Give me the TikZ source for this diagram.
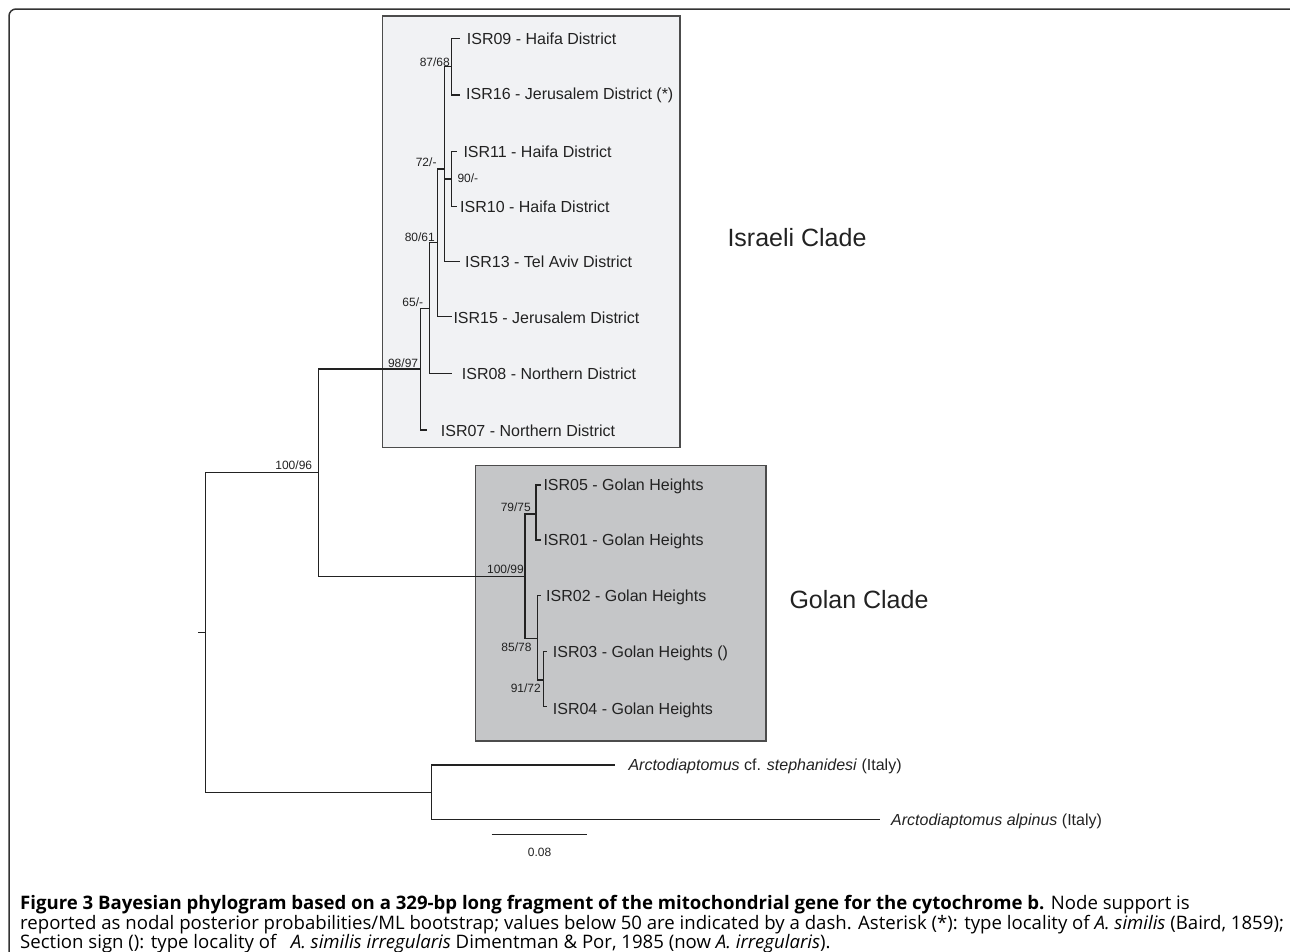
\documentclass[tikz,border=0pt]{standalone}
\usepackage{fontspec}
\setmainfont{Liberation Sans}
\newfontfamily\capfont{Open Sans}
\definecolor{israfill}{HTML}{F1F2F4}
\definecolor{golanfill}{HTML}{C5C6C8}
\definecolor{ink}{HTML}{222222}
\begin{document}
\begin{tikzpicture}[x=1pt,y=-1pt,
  br/.style={line width=1.35pt, draw=ink},
  tiplab/.style={anchor=base west, inner sep=0pt, font=\fontsize{16}{19}\selectfont, text=ink},
  suplab/.style={anchor=base east, inner sep=0pt, font=\fontsize{12}{14}\selectfont, text=ink},
  cladelab/.style={inner sep=0pt, font=\fontsize{25}{30}\selectfont, text=ink},
  captext/.style={anchor=base west, inner sep=0pt, font=\capfont\fontsize{18.6}{21}\selectfont, text=black}]
\useasboundingbox (0,0) rectangle (1290,951);
% frame
\draw[line width=1.5pt, draw=black!80, rounded corners=7pt] (9,980) -- (9,9) -- (1297,9) -- (1297,980);
% clade boxes
\draw[fill=israfill, draw=black!70, line width=1.2pt] (382.7,16) rectangle (680,447.7);
\draw[fill=golanfill, draw=black!70, line width=1.2pt] (475.7,465.7) rectangle (766,741);
% node coordinates
\coordinate (R) at (205.7,632.5);
\coordinate (R0) at (198.3,632.5);
\coordinate (U) at (318.3,472.7);
\coordinate (O) at (431.7,792.5);
\coordinate (F) at (420.7,369);
\coordinate (E) at (429.3,308.3);
\coordinate (D) at (437.3,242.7);
\coordinate (C) at (444.3,169);
\coordinate (A) at (451.7,66.7);
\coordinate (B) at (451.7,179);
\coordinate (G) at (525,576.7);
\coordinate (H) at (536,514);
\coordinate (I) at (537.3,638.3);
\coordinate (J) at (543.3,680);
% tips
\coordinate (t09) at (460,38.3);
\coordinate (t16) at (460,95);
\coordinate (t11) at (457.3,151.7);
\coordinate (t10) at (457.3,206.7);
\coordinate (t13) at (460,261.7);
\coordinate (t15) at (451.7,316.7);
\coordinate (t08) at (451.7,373.3);
\coordinate (t07) at (426.7,430);
\coordinate (t05) at (540.7,485);
\coordinate (t01) at (540.7,540);
\coordinate (t02) at (540.7,595.7);
\coordinate (t03) at (547.3,651.7);
\coordinate (t04) at (547.3,706.7);
\coordinate (ts) at (615,765);
\coordinate (ta) at (880,819.3);
% branches
\draw[br] (R0) -- (R);
\draw[br] (R) |- (U);
\draw[br] (R) |- (O);
\draw[br] (U) |- (F);
\draw[br] (U) |- (G);
\draw[br] (F) |- (E);
\draw[br] (F) |- (t07);
\draw[br] (E) |- (D);
\draw[br] (E) |- (t08);
\draw[br] (D) |- (C);
\draw[br] (D) |- (t15);
\draw[br] (C) |- (A);
\draw[br] (C) |- (B);
\draw[br] (C) |- (t13);
\draw[br] (A) |- (t09);
\draw[br] (A) |- (t16);
\draw[br] (B) |- (t11);
\draw[br] (B) |- (t10);
\draw[br] (G) |- (H);
\draw[br] (G) |- (I);
\draw[br] (H) |- (t05);
\draw[br] (H) |- (t01);
\draw[br] (I) |- (t02);
\draw[br] (I) |- (J);
\draw[br] (J) |- (t03);
\draw[br] (J) |- (t04);
\draw[br] (O) |- (ts);
\draw[br] (O) |- (ta);
% tip labels
\node[tiplab] (l09) at (466.7,44.0) {ISR09 - Haifa District};
\node[tiplab] (l16) at (466,99.0) {ISR16 - Jerusalem District (*)};
\node[tiplab] (l11) at (463.3,157.4) {ISR11 - Haifa District};
\node[tiplab] (l10) at (460,212.4) {ISR10 - Haifa District};
\node[tiplab] (l13) at (465,267.4) {ISR13 - Tel Aviv District};
\node[tiplab] (l15) at (453.3,323.0) {ISR15 - Jerusalem District};
\node[tiplab] (l08) at (461.7,379.7) {ISR08 - Northern District};
\node[tiplab] (l07) at (440.7,436.4) {ISR07 - Northern District};
\node[tiplab] (l05) at (543.3,490.7) {ISR05 - Golan Heights};
\node[tiplab] (l01) at (543.3,545.7) {ISR01 - Golan Heights};
\node[tiplab] (l02) at (546,601.4) {ISR02 - Golan Heights};
\node[tiplab] (l03) at (552.7,657.4) {ISR03 - Golan Heights ()};
\node[tiplab] (l04) at (552.7,714.0) {ISR04 - Golan Heights};
\node[tiplab] (ls) at (628.3,770.7) {\textit{Arctodiaptomus} cf. \textit{stephanidesi} (Italy)};
\node[tiplab] (la) at (891,825.0) {\textit{Arctodiaptomus alpinus} (Italy)};
% support values
\node[suplab] (s1) at (450,66) {87/68};
\node[suplab] (s2) at (436.7,166) {72/-};
\node[suplab, anchor=base west] (s3) at (457.3,182.6) {90/-};
\node[suplab] (s4) at (435,241) {80/61};
\node[suplab] (s5) at (423.3,306) {65/-};
\node[suplab] (s6) at (418.3,367) {98/97};
\node[suplab] (s7) at (312.3,469.3) {100/96};
\node[suplab] (s8) at (524,573.6) {100/99};
\node[suplab] (s9) at (531,511) {79/75};
\node[suplab] (s10) at (531.7,651) {85/78};
\node[suplab] (s11) at (541,692.6) {91/72};
% clade names
\node[cladelab] (isr) at (797,238) {Israeli Clade};
\node[cladelab] (gol) at (859,600) {Golan Clade};
% scale bar
\coordinate (sb1) at (491.7,834.3);
\coordinate (sb2) at (587.3,834.3);
\draw[br] (sb1) -- (sb2);
\node[suplab, anchor=base] (sbl) at (539.5,856.3) {0.08};
% caption
\node[captext] (cap1) at (20,909) {\textbf{Figure 3 Bayesian phylogram based on a 329-bp long fragment of the mitochondrial gene for the cytochrome b.} Node support is};
\node[captext] (cap2) at (20,929.5) {reported as nodal posterior probabilities/ML bootstrap; values below 50 are indicated by a dash. Asterisk (*): type locality of \textit{A. similis} (Baird, 1859);};
\node[captext] (cap3) at (20,948) {Section sign (): type locality of\ \ \ \textit{A. similis irregularis} Dimentman \& Por, 1985 (now \textit{A. irregularis}).};
\end{tikzpicture}
\end{document}
